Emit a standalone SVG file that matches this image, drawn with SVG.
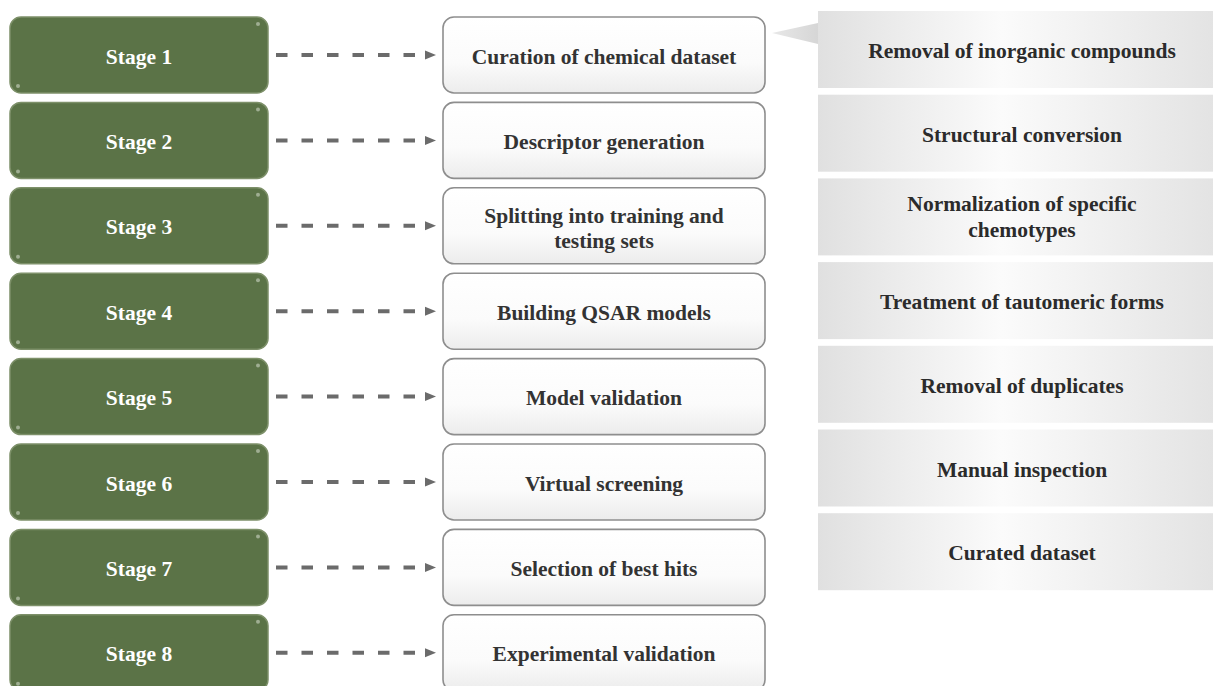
<svg xmlns="http://www.w3.org/2000/svg" width="1213" height="686" viewBox="0 0 1213 686">
<defs>
<linearGradient id="gWhite" x1="0" y1="0" x2="0" y2="1">
<stop offset="0" stop-color="#ffffff"/>
<stop offset="0.6" stop-color="#fbfbfb"/>
<stop offset="1" stop-color="#ececec"/>
</linearGradient>
<linearGradient id="gPanel" x1="0" y1="0" x2="1" y2="0">
<stop offset="0" stop-color="#e0e0e0"/>
<stop offset="0.45" stop-color="#fbfbfb"/>
<stop offset="1" stop-color="#e2e2e2"/>
</linearGradient>
<linearGradient id="gCallout" x1="0" y1="0" x2="1" y2="0">
<stop offset="0" stop-color="#e8e8e8"/>
<stop offset="1" stop-color="#d6d6d6"/>
</linearGradient>
<marker id="arrow" markerUnits="userSpaceOnUse" viewBox="0 0 22 10" markerWidth="22" markerHeight="10" refX="0" refY="5" orient="auto">
<path d="M10,0.5 L21,5 L10,9.5 z" fill="#6b6b6b"/>
</marker>
<style>
.stage rect.box{fill:#5b7347;stroke:#7d9069;stroke-width:1.5}
.stage circle{fill:#9fae92}
.stage text{font-family:"Liberation Serif","Times New Roman",serif;font-weight:bold;font-size:21.5px;fill:#ffffff;text-anchor:middle}
.step rect{fill:url(#gWhite);stroke:#8e8e8e;stroke-width:1.6}
.step text{font-family:"Liberation Serif","Times New Roman",serif;font-weight:bold;font-size:21.5px;fill:#333333;text-anchor:middle}
.panel rect{fill:url(#gPanel)}
.panel text{font-family:"Liberation Serif","Times New Roman",serif;font-weight:bold;font-size:21.5px;fill:#2b2b2b;text-anchor:middle}
.conn line{stroke:#6b6b6b;stroke-width:4;stroke-dasharray:11.5 14;marker-end:url(#arrow)}
</style>
</defs>
<rect width="1213" height="686" fill="#ffffff"/>

<!-- right panels -->
<polygon id="callout" points="772,33 818,23 818,44" fill="url(#gCallout)"/>
<g id="panel1" class="panel"><rect x="818" y="11" width="408" height="77"/><text x="1022" y="58">Removal of inorganic compounds</text></g>
<g id="panel2" class="panel"><rect x="818" y="94.7" width="408" height="77"/><text x="1022" y="141.7">Structural conversion</text></g>
<g id="panel3" class="panel"><rect x="818" y="178.4" width="408" height="77"/><text x="1022" y="210.5">Normalization of specific</text><text x="1022" y="236.5">chemotypes</text></g>
<g id="panel4" class="panel"><rect x="818" y="262.1" width="408" height="77"/><text x="1022" y="309.1">Treatment of tautomeric forms</text></g>
<g id="panel5" class="panel"><rect x="818" y="345.8" width="408" height="77"/><text x="1022" y="392.8">Removal of duplicates</text></g>
<g id="panel6" class="panel"><rect x="818" y="429.5" width="408" height="77"/><text x="1022" y="476.5">Manual inspection</text></g>
<g id="panel7" class="panel"><rect x="818" y="513.2" width="408" height="77"/><text x="1022" y="560.2">Curated dataset</text></g>

<!-- stage nodes -->
<g id="stage1" class="stage"><rect class="box" x="10" y="17" width="258" height="76" rx="11"/><circle cx="258" cy="24" r="2"/><circle cx="18" cy="86" r="2"/><text x="139" y="63.5">Stage 1</text></g>
<g id="stage2" class="stage"><rect class="box" x="10" y="102.4" width="258" height="76" rx="11"/><circle cx="258" cy="109.4" r="2"/><circle cx="18" cy="171.4" r="2"/><text x="139" y="148.9">Stage 2</text></g>
<g id="stage3" class="stage"><rect class="box" x="10" y="187.8" width="258" height="76" rx="11"/><circle cx="258" cy="194.8" r="2"/><circle cx="18" cy="256.8" r="2"/><text x="139" y="234.3">Stage 3</text></g>
<g id="stage4" class="stage"><rect class="box" x="10" y="273.2" width="258" height="76" rx="11"/><circle cx="258" cy="280.2" r="2"/><circle cx="18" cy="342.2" r="2"/><text x="139" y="319.7">Stage 4</text></g>
<g id="stage5" class="stage"><rect class="box" x="10" y="358.6" width="258" height="76" rx="11"/><circle cx="258" cy="365.6" r="2"/><circle cx="18" cy="427.6" r="2"/><text x="139" y="405.1">Stage 5</text></g>
<g id="stage6" class="stage"><rect class="box" x="10" y="444" width="258" height="76" rx="11"/><circle cx="258" cy="451" r="2"/><circle cx="18" cy="513" r="2"/><text x="139" y="490.5">Stage 6</text></g>
<g id="stage7" class="stage"><rect class="box" x="10" y="529.4" width="258" height="76" rx="11"/><circle cx="258" cy="536.4" r="2"/><circle cx="18" cy="598.4" r="2"/><text x="139" y="575.9">Stage 7</text></g>
<g id="stage8" class="stage"><rect class="box" x="10" y="614.8" width="258" height="76" rx="11"/><circle cx="258" cy="621.8" r="2"/><circle cx="18" cy="683.8" r="2"/><text x="139" y="661.3">Stage 8</text></g>

<!-- step nodes -->
<g id="step1" class="step"><rect x="443" y="17" width="322" height="76" rx="11"/><text x="604" y="63.5">Curation of chemical dataset</text></g>
<g id="step2" class="step"><rect x="443" y="102.4" width="322" height="76" rx="11"/><text x="604" y="148.9">Descriptor generation</text></g>
<g id="step3" class="step"><rect x="443" y="187.8" width="322" height="76" rx="11"/><text x="604" y="222.8">Splitting into training and</text><text x="604" y="247.8">testing sets</text></g>
<g id="step4" class="step"><rect x="443" y="273.2" width="322" height="76" rx="11"/><text x="604" y="319.7">Building QSAR models</text></g>
<g id="step5" class="step"><rect x="443" y="358.6" width="322" height="76" rx="11"/><text x="604" y="405.1">Model validation</text></g>
<g id="step6" class="step"><rect x="443" y="444" width="322" height="76" rx="11"/><text x="604" y="490.5">Virtual screening</text></g>
<g id="step7" class="step"><rect x="443" y="529.4" width="322" height="76" rx="11"/><text x="604" y="575.9">Selection of best hits</text></g>
<g id="step8" class="step"><rect x="443" y="614.8" width="322" height="76" rx="11"/><text x="604" y="661.3">Experimental validation</text></g>

<!-- connectors -->
<g id="connectors" class="conn">
<line x1="276" y1="55" x2="415" y2="55"/>
<line x1="276" y1="140.4" x2="415" y2="140.4"/>
<line x1="276" y1="225.8" x2="415" y2="225.8"/>
<line x1="276" y1="311.2" x2="415" y2="311.2"/>
<line x1="276" y1="396.6" x2="415" y2="396.6"/>
<line x1="276" y1="482" x2="415" y2="482"/>
<line x1="276" y1="567.4" x2="415" y2="567.4"/>
<line x1="276" y1="652.8" x2="415" y2="652.8"/>
</g>
</svg>
